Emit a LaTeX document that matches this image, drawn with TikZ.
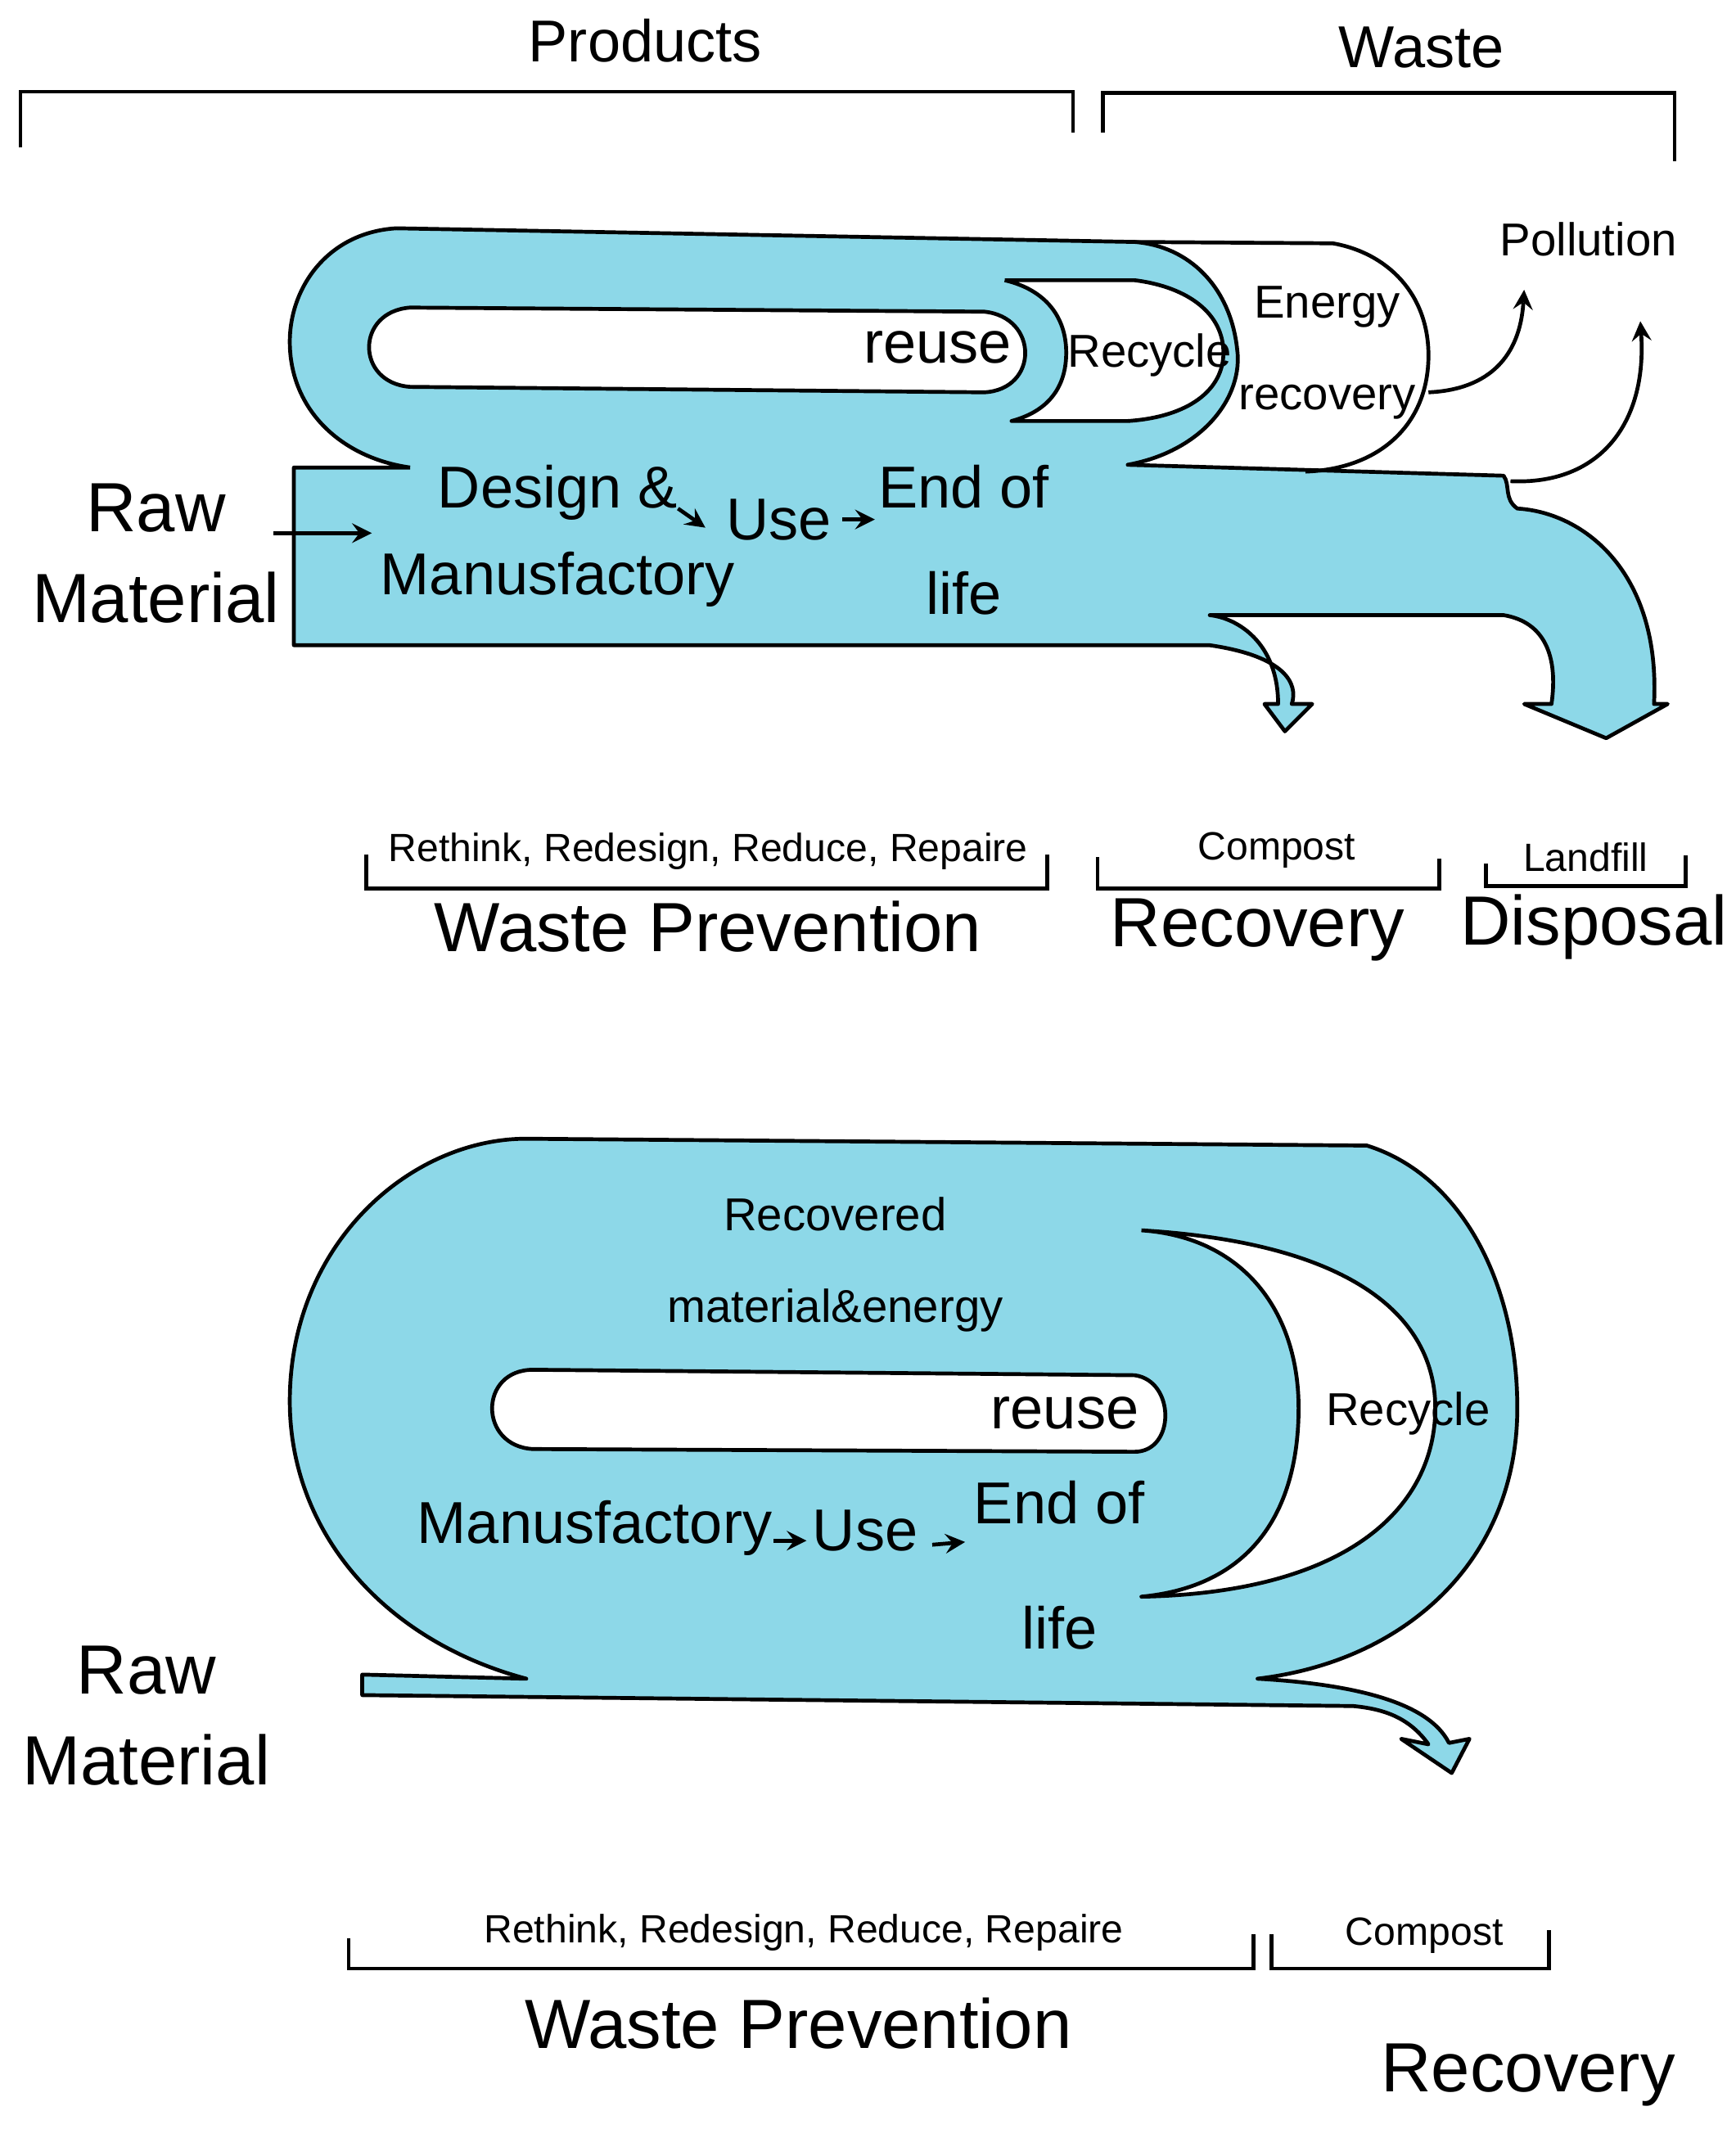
\documentclass[tikz,border=0pt]{standalone}
\usepackage{fontspec}
\setmainfont{Liberation Sans}
\usetikzlibrary{positioning}
\definecolor{flux}{HTML}{8DD8E8}
\begin{document}
\begin{tikzpicture}[x=0.1mm,y=-0.1mm]
			\tikzstyle{bord}=[thick,line join=round]
			\tikzstyle{flot}=[bord,fill=flux]
			\tikzstyle{trou}=[bord,fill=white]
			\tikzstyle{crochet}=[thick]
			\tikzstyle{fleche}=[->,>=stealth,thick]
			\tikzstyle{grand}=[font=\fontsize{14.5}{17}\selectfont,align=center]
			\tikzstyle{moyen}=[font=\fontsize{12.3}{14}\selectfont,align=center]
			\tikzstyle{petit}=[font=\fontsize{9.6}{11}\selectfont,align=center]
			\tikzstyle{mini}=[font=\fontsize{8.2}{10}\selectfont,align=center,inner sep=1pt]
			\useasboundingbox (0,0) rectangle (1270,1564);
			% haut : flux
			\draw[flot] (300,342)--(215,342)--(215,472)--(240,472)--(885,472)
				.. controls (940,480) and (950,500) .. (945,515)--(960,515)--(940,535)--(925,515)--(935,515)
				.. controls (935,470) and (905,452) .. (885,450)--(1100,450)
				.. controls (1130,455) and (1140,480) .. (1135,515)--(1115,515)--(1175,540)--(1220,515)--(1210,515)
				.. controls (1215,420) and (1160,375) .. (1110,372)
				.. controls (1100,365) and (1105,355) .. (1100,348)--(825,340)
				.. controls (880,330) and (910,290) .. (905,255)
				.. controls (900,210) and (870,180) .. (830,177)--(290,167)
				.. controls (240,170) and (212,210) .. (212,250)
				.. controls (212,300) and (250,335) .. (300,342);
			\draw[trou] (735,205)--(830,205) .. controls (870,210) and (895,230) .. (895,258)
				.. controls (895,285) and (870,305) .. (825,308)--(740,308)
				.. controls (770,300) and (780,280) .. (780,258) .. controls (780,232) and (765,212) .. (735,205);
			\draw[trou] (300,225)--(720,228) .. controls (760,232) and (760,285) .. (720,287)--(300,283)
				.. controls (260,280) and (260,228) .. (300,225);
			\draw[bord] (830,177)--(975,178) .. controls (1015,185) and (1045,215) .. (1045,260)
				.. controls (1045,310) and (1010,343) .. (955,345);
			% haut : textes
			\node[moyen] (reuse1) at (686,254) {reuse};
			\node[petit] (recycle1) at (841,260) {Recycle};
			\node[petit] (energie) at (971,258) {Energy\\[8pt]recovery};
			\node[petit] (pollution) at (1162,175) {Pollution};
			\node[moyen] (design) at (408,392) {Design \&\\[4pt]Manusfactory};
			\node[moyen] (use1) at (570,380) {Use};
			\node[moyen] (fin1) at (705,395) {End of\\[8pt]life};
			\node[grand] (raw1) at (114,405) {Raw\\[2pt]Material};
			\node[moyen,anchor=south] (products) at (472,58) {Products};
			\node[moyen,anchor=south] (waste) at (1040,62) {Waste};
			\draw[fleche] (496,372)--(516,386);
			\draw[fleche] (616,380)--(640,380);
			\coordinate (entree) at (200,390);
			\coordinate (entreeB) at (272,390);
			\draw[fleche] (entree)--(entreeB);
			\coordinate (p1) at (1045,287);
			\coordinate (p2) at (1115,212);
			\coordinate (p3) at (1105,352);
			\coordinate (p4) at (1200,235);
			\draw[fleche] (p1) .. controls (1090,285) and (1112,260) .. (p2);
			\draw[fleche] (p3) .. controls (1170,355) and (1205,310) .. (p4);
			\draw[crochet] (15,108)--(15,67)--(785,67)--(785,97);
			\draw[crochet] (807,97)--(807,68)--(1225,68)--(1225,118);
			\draw[crochet] (268,625)--(268,650)--(766,650)--(766,625);
			\draw[crochet] (803,627)--(803,650)--(1053,650)--(1053,628);
			\draw[crochet] (1087,632)--(1087,648)--(1233,648)--(1233,626);
			\node[mini] (r4a) at (518,623) {Rethink, Redesign, Reduce, Repaire};
			\node[mini] (compost1) at (934,622) {Compost};
			\node[mini] (landfill) at (1160,627) {Landfill};
			\node[grand] (prev1) at (518,678) {Waste Prevention};
			\node[grand] (recov1) at (920,680) {Recovery};
			\node[grand] (disp) at (1166,678) {Disposal};
			% bas : flux
			\draw[flot] (265,1225)--(385,1228) .. controls (280,1200) and (212,1120) .. (212,1025)
				.. controls (212,910) and (300,833) .. (385,833)--(1000,838)
				.. controls (1070,860) and (1110,940) .. (1110,1030)
				.. controls (1110,1140) and (1030,1215) .. (920,1228)
				.. controls (990,1232) and (1045,1245) .. (1060,1275)--(1075,1272)--(1062,1297)--(1025,1272)--(1045,1276)
				.. controls (1030,1255) and (1010,1250) .. (990,1248)--(265,1240)--cycle;
			\draw[trou] (835,900) .. controls (1000,910) and (1050,970) .. (1050,1030)
				.. controls (1050,1100) and (990,1165) .. (835,1168)
				.. controls (920,1160) and (950,1100) .. (950,1030)
				.. controls (950,960) and (910,905) .. (835,900);
			\draw[trou] (390,1002)--(830,1006) .. controls (860,1010) and (860,1062) .. (830,1062)--(390,1060)
				.. controls (350,1058) and (350,1002) .. (390,1002);
			% bas : textes
			\node[moyen] (reuse2) at (779,1034) {reuse};
			\node[petit] (recycle2) at (1030,1034) {Recycle};
			\node[petit] (recup) at (611,925) {Recovered\\[8pt]material\&energy};
			\node[moyen] (manu) at (435,1118) {Manusfactory};
			\node[moyen] (use2) at (633,1120) {Use};
			\node[moyen] (fin2) at (775,1145) {End of\\[12pt]life};
			\draw[fleche] (566,1127)--(590,1127);
			\draw[fleche] (682,1130)--(706,1128);
			\node[grand] (raw2) at (107,1255) {Raw\\[2pt]Material};
			\draw[crochet] (255,1418)--(255,1440)--(917,1440)--(917,1415);
			\draw[crochet] (930,1415)--(930,1440)--(1133,1440)--(1133,1412);
			\node[mini] (r4b) at (588,1414) {Rethink, Redesign, Reduce, Repaire};
			\node[mini] (compost2) at (1042,1416) {Compost};
			\node[grand] (prev2) at (584,1480) {Waste Prevention};
			\node[grand] (recov2) at (1118,1518) {Recovery};
\end{tikzpicture}
\end{document}
